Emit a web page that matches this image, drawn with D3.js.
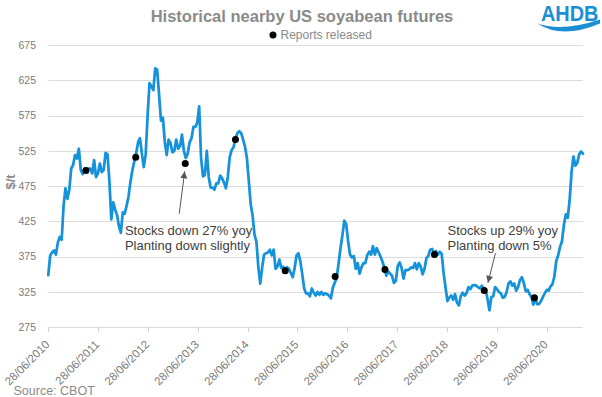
<!DOCTYPE html>
<html><head><meta charset="utf-8">
<script src="https://cdn.jsdelivr.net/npm/d3@7"></script>
<style>
body{margin:0;background:#fff}
svg{display:block;font-family:"Liberation Sans",Arial,sans-serif}
</style>
</head><body>
<svg id="chart" width="602" height="397"></svg>
<script>
// ---------- DATA ----------
const title = "Historical nearby US soyabean futures";
const legendLabel = "Reports released";
const yAxisTitle = "$/t";
const sourceText = "Source: CBOT";
const seriesStart = "28/06/2010";   // fortnightly nearby closes
const seriesStepDays = 14;
const prices = [
 349,377,381,384,378,395,403,399,447,472,457,470,500,505,519,514,528,498,492,500,
 498,500,500,493,512,488,493,507,495,498,522,520,482,428,452,442,434,418,409,438,
 436,447,460,481,497,510,521,537,543,521,502,520,575,621,
 616,611,642,640,605,568,572,538,519,541,536,523,525,541,528,532,548,525,515,521,
 537,543,559,559,565,588,515,489,491,525,488,473,473,470,479,479,490,486,480,472,
 488,516,526,530,542,550,553,550,541,531,515,482,449,433,406,396,360,
 337,360,378,380,381,385,377,385,358,361,371,359,361,356,360,358,352,346,359,377,
 380,368,350,330,323,323,319,330,324,320,325,321,325,321,323,322,320,316,331,338,
 345,365,387,405,426,421,397,378,374,376,358,366,351,360,366,366,377,382,
 378,390,378,387,381,375,368,359,348,354,351,348,338,341,362,367,359,344,356,356,
 357,360,359,366,357,366,361,350,358,
 373,376,385,386,380,383,378,382,379,352,332,312,317,320,314,322,310,306,319,324,
 320,323,332,329,334,335,334,332,330,334,330,329,315,299,318,319,332,329,325,323,
 317,318,325,337,340,
 334,337,327,332,342,346,338,326,328,322,318,307,316,308,308,312,318,323,328,327,
 333,336,347,369,377,389,397,420,435,430,455,495,517,504,508,520,524,521
];
const tickLabels = ["28/06/2010","28/06/2011","28/06/2012","28/06/2013","28/06/2014",
  "28/06/2015","28/06/2016","28/06/2017","28/06/2018","28/06/2019","28/06/2020"];
const yTicks = [275,325,375,425,475,525,575,625,675];
const reportDates = ["31/03/2011","30/03/2012","28/03/2013","31/03/2014","31/03/2015",
  "31/03/2016","31/03/2017","29/03/2018","29/03/2019","31/03/2020"];
const reportValues = [497,516,507,541,355,347,357,378,327,317];
const annotationLines = [
  ["Stocks down 27% yoy","Planting down slightly"],
  ["Stocks up 29% yoy","Planting down 5%"]
];
const annotationTextAt = [["11/01/2012",406],["03/07/2018",406]];
const arrowTails = [["12/02/2013",436],["19/06/2019",380]];
const arrowTips  = [["24/03/2013",496],["25/04/2019",338]];

// ---------- CHART ----------
const parse = d3.timeParse("%d/%m/%Y");
const start = parse(seriesStart);
const dates = prices.map((_, i) => d3.timeDay.offset(start, seriesStepDays * i));

const svg = d3.select("#chart");
const x = d3.scaleTime().domain([start, dates[dates.length - 1]]).range([48.3, 583]);
const y = d3.scaleLinear().domain([275, 675]).range([327.3, 45]);

const grey = "#8a8a8a";
const axisGrey = "#7a7a7a";

// gridlines
svg.append("g").selectAll("line").data(yTicks).join("line")
  .attr("x1", x.range()[0]).attr("x2", x.range()[1])
  .attr("y1", d => Math.round(y(d)) + 0.5).attr("y2", d => Math.round(y(d)) + 0.5)
  .attr("stroke", "#dcdcdc").attr("stroke-width", 1);

// y labels
svg.append("g").selectAll("text").data(yTicks).join("text")
  .attr("x", 36).attr("y", d => y(d)).attr("dy", "0.35em")
  .attr("text-anchor", "end").attr("font-size", 10.5).attr("fill", axisGrey)
  .text(d => d);

// x ticks
const tickDates = tickLabels.map(parse);
svg.append("g").selectAll("line").data(tickDates).join("line")
  .attr("x1", d => Math.round(x(d)) + 0.5).attr("x2", d => Math.round(x(d)) + 0.5)
  .attr("y1", y(275)).attr("y2", y(275) + 5)
  .attr("stroke", "#d0d0d0");
svg.append("g").selectAll("text").data(tickLabels).join("text")
  .attr("transform", d => `translate(${x(parse(d)) + 2},${y(275) + 18}) rotate(-45)`)
  .attr("text-anchor", "end").attr("font-size", 11.5).attr("fill", axisGrey)
  .text(d => d);

// y axis title
svg.append("text").attr("transform", "translate(15,182) rotate(-90)")
  .attr("text-anchor", "middle").attr("font-size", 13).attr("font-weight", "bold")
  .attr("fill", grey).text(yAxisTitle);

// price line
svg.append("path").datum(prices)
  .attr("d", d3.line().x((d, i) => x(dates[i])).y(d => y(d)))
  .attr("fill", "none").attr("stroke", "#1592d9").attr("stroke-width", 2.75)
  .attr("stroke-linejoin", "round").attr("stroke-linecap", "round");

// report dots
svg.append("g").selectAll("circle").data(reportValues).join("circle")
  .attr("cx", (d, i) => x(parse(reportDates[i]))).attr("cy", d => y(d))
  .attr("r", 3.5).attr("fill", "#000");

// annotations
const defs = svg.append("defs");
defs.append("marker").attr("id", "ah").attr("viewBox", "0 0 10 10")
  .attr("refX", 10).attr("refY", 5).attr("markerWidth", 8).attr("markerHeight", 7)
  .attr("markerUnits", "userSpaceOnUse").attr("orient", "auto")
  .append("path").attr("d", "M0,0 L10,5 L0,10 Z").attr("fill", "#555");
arrowTails.forEach((t, i) => {
  svg.append("line")
    .attr("x1", x(parse(t[0]))).attr("y1", y(t[1]))
    .attr("x2", x(parse(arrowTips[i][0]))).attr("y2", y(arrowTips[i][1]))
    .attr("stroke", "#555").attr("stroke-width", 1).attr("marker-end", "url(#ah)");
});
annotationLines.forEach((lines, i) => {
  const t = svg.append("text").attr("font-size", 13).attr("fill", "#404040");
  lines.forEach((ln, j) => t.append("tspan")
    .attr("x", x(parse(annotationTextAt[i][0])))
    .attr("y", y(annotationTextAt[i][1]) + j * 15.3).text(ln));
});

// title + legend
svg.append("text").attr("x", 302).attr("y", 22).attr("text-anchor", "middle")
  .attr("font-size", 16.5).attr("font-weight", "bold").attr("fill", grey).text(title);
svg.append("circle").attr("cx", 273).attr("cy", 35).attr("r", 3.5).attr("fill", "#000");
svg.append("text").attr("x", 280.5).attr("y", 38.5).attr("font-size", 12)
  .attr("fill", grey).text(legendLabel);

// source
svg.append("text").attr("x", 13.5).attr("y", 394.5).attr("font-size", 12.5)
  .attr("fill", grey).text(sourceText);

// AHDB logo
const logo = svg.append("g");
logo.append("text").attr("transform", "translate(541,20.5) scale(1,1.13)")
  .attr("font-size", 19.9).attr("font-weight", "bold").attr("fill", "#1a8fd6")
  .text("AHDB");
logo.append("path")
  .attr("d", "M537.5,23.5 Q562,32 600,19.5 L600,23.5 Q562,39.5 537.5,23.5 Z")
  .attr("fill", "#1a8fd6");
</script>
</body></html>
